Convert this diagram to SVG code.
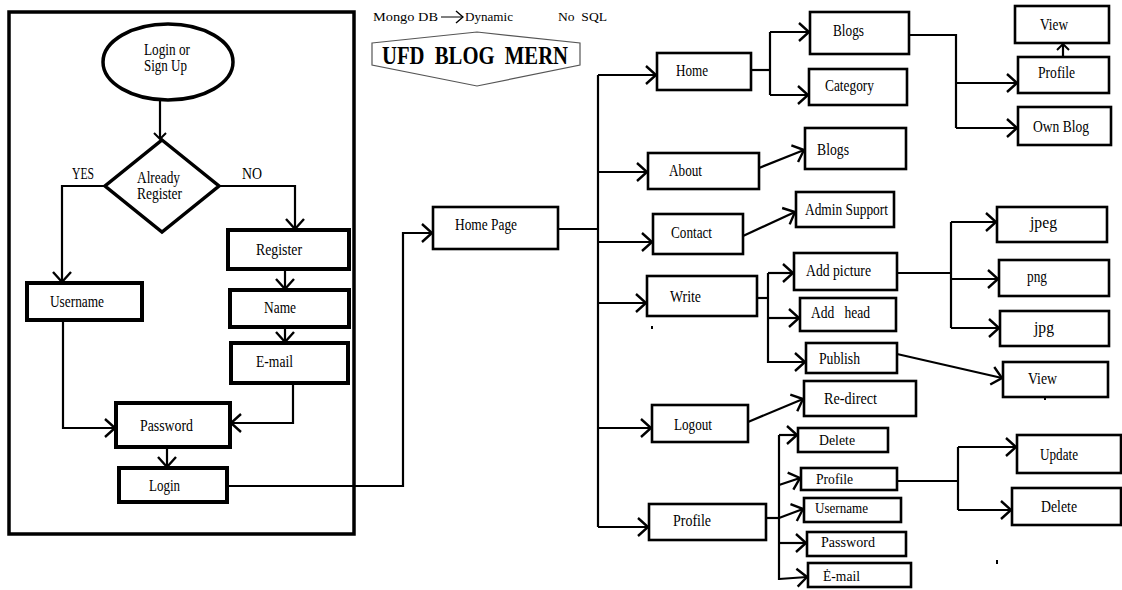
<svg xmlns="http://www.w3.org/2000/svg" width="1122" height="590" viewBox="0 0 1122 590" font-family="'Liberation Serif', 'Times New Roman', serif">
<defs>
<style>
text{font-family:'Liberation Serif','Times New Roman',serif;font-size:16px;fill:#000}
.b{fill:#fff;stroke:#000;stroke-width:2.6}
.k{fill:#fff;stroke:#000;stroke-width:4}
.c{fill:none;stroke:#000;stroke-width:2.2}
.h{font-size:13px}
.sm{font-size:15px}
</style>
<marker id="a" viewBox="-13 -12 15 24" refX="0" refY="0" markerWidth="15" markerHeight="24" orient="auto" markerUnits="userSpaceOnUse"><path d="M-10,-9 L0,0 L-10,9" fill="none" stroke="#000" stroke-width="2.4"/></marker>
<marker id="s" viewBox="-9 -8 10 16" refX="0" refY="0" markerWidth="10" markerHeight="16" orient="auto" markerUnits="userSpaceOnUse"><path d="M-6,-6 L0,0 L-6,6" fill="none" stroke="#000" stroke-width="2"/></marker>
<marker id="t" viewBox="-9 -8 10 16" refX="0" refY="0" markerWidth="10" markerHeight="16" orient="auto" markerUnits="userSpaceOnUse"><path d="M-7,-6 L0,0 L-7,6" fill="none" stroke="#000" stroke-width="1.4"/></marker>
</defs>
<rect width="1122" height="590" fill="#fff"/>

<g id="frame"><rect x="9" y="12" width="345" height="522" fill="none" stroke="#000" stroke-width="3.5"/></g>

<g id="title">
<text class="h" x="373" y="21" textLength="65" lengthAdjust="spacingAndGlyphs">Mongo DB</text>
<line x1="441" y1="17" x2="463" y2="17" stroke="#000" stroke-width="1" marker-end="url(#t)"/>
<text class="h" x="465" y="21" textLength="48" lengthAdjust="spacingAndGlyphs">Dynamic</text>
<text class="h" x="558" y="21" textLength="49" lengthAdjust="spacingAndGlyphs" xml:space="preserve">No  SQL</text>
<polygon points="372,43 477,32 580,43 580,65 477,86 372,65" fill="none" stroke="#555" stroke-width="1.2"/>
<text x="382" y="64" style="font-size:25px;font-weight:bold" textLength="186" lengthAdjust="spacingAndGlyphs" xml:space="preserve">UFD  BLOG  MERN</text>
</g>

<g id="connectors">
<path class="c" d="M160,100 V139" marker-end="url(#s)"/>
<path class="c" d="M105,186 H62 V282" marker-end="url(#a)"/>
<path class="c" d="M219,186 H295 V229" marker-end="url(#a)"/>
<path class="c" d="M285,269 V289" marker-end="url(#a)"/>
<path class="c" d="M285,327 V342" marker-end="url(#a)"/>
<path class="c" d="M293,383 V423 H231" marker-end="url(#a)"/>
<path class="c" d="M63,320 V428 H115" marker-end="url(#a)"/>
<path class="c" d="M167,447 V467" marker-end="url(#a)"/>
<path class="c" d="M227,486 H403 V233 H432" marker-end="url(#a)"/>
<path class="c" d="M558,229 H598"/>
<path class="c" d="M598,75 V527"/>
<path class="c" d="M598,75 H656" marker-end="url(#a)"/>
<path class="c" d="M598,172 H647" marker-end="url(#a)"/>
<path class="c" d="M598,242 H652" marker-end="url(#a)"/>
<path class="c" d="M598,303 H646" marker-end="url(#a)"/>
<path class="c" d="M598,428 H651" marker-end="url(#a)"/>
<path class="c" d="M598,527 H648" marker-end="url(#a)"/>
<path class="c" d="M751,70 H770"/>
<path class="c" d="M770,32 V95"/>
<path class="c" d="M770,32 H809" marker-end="url(#a)"/>
<path class="c" d="M770,95 H808" marker-end="url(#a)"/>
<path class="c" d="M909,35 H956 V128"/>
<path class="c" d="M956,83 H1017" marker-end="url(#a)"/>
<path class="c" d="M956,128 H1017" marker-end="url(#a)"/>
<path class="c" d="M1063,57 V44" marker-end="url(#s)"/>
<path class="c" d="M759,168 L804,150" marker-end="url(#a)"/>
<path class="c" d="M743,236 L795,212" marker-end="url(#a)"/>
<path class="c" d="M757,298 H768"/>
<path class="c" d="M768,273 V363"/>
<path class="c" d="M768,273 H793" marker-end="url(#a)"/>
<path class="c" d="M768,318 H799" marker-end="url(#a)"/>
<path class="c" d="M768,362 H805" marker-end="url(#a)"/>
<path class="c" d="M897,273 H951"/>
<path class="c" d="M951,222 V328"/>
<path class="c" d="M951,222 H996" marker-end="url(#a)"/>
<path class="c" d="M951,279 H998" marker-end="url(#a)"/>
<path class="c" d="M951,328 H999" marker-end="url(#a)"/>
<path class="c" d="M897,354 L1002,378" marker-end="url(#a)"/>
<path class="c" d="M748,422 L803,399" marker-end="url(#a)"/>
<path class="c" d="M766,518 H779"/>
<path class="c" d="M779,435 V580"/>
<path class="c" d="M779,435 H797" marker-end="url(#a)"/>
<path class="c" d="M779,485 L800,478" marker-end="url(#a)"/>
<path class="c" d="M779,518 L803,509" marker-end="url(#a)"/>
<path class="c" d="M779,543 H806" marker-end="url(#a)"/>
<path class="c" d="M779,579 L807,577" marker-end="url(#a)"/>
<path class="c" d="M897,481 H958"/>
<path class="c" d="M958,447 V510"/>
<path class="c" d="M958,447 H1016" marker-end="url(#a)"/>
<path class="c" d="M958,510 H1011" marker-end="url(#a)"/>
</g>

<g id="n-start"><ellipse cx="168" cy="62" rx="65" ry="38" fill="#fff" stroke="#000" stroke-width="3.5"/><text x="144" y="55" textLength="46" lengthAdjust="spacingAndGlyphs">Login or</text><text x="144" y="71" textLength="43" lengthAdjust="spacingAndGlyphs">Sign Up</text></g>
<g id="n-already"><polygon points="162,140 219,186 162,232 105,186" fill="#fff" stroke="#000" stroke-width="3.5"/><text x="137" y="183" textLength="43" lengthAdjust="spacingAndGlyphs">Already</text><text x="137" y="199" textLength="45" lengthAdjust="spacingAndGlyphs">Register</text></g>
<g id="l-yes"><text x="72" y="179" textLength="22" lengthAdjust="spacingAndGlyphs">YES</text></g>
<g id="l-no"><text x="242" y="179" textLength="20" lengthAdjust="spacingAndGlyphs">NO</text></g>
<g id="n-register"><rect class="k" x="228" y="230" width="121" height="39"/><text x="256" y="255" textLength="46" lengthAdjust="spacingAndGlyphs">Register</text></g>
<g id="n-name"><rect class="k" x="230" y="290" width="119" height="37"/><text x="264" y="313" textLength="32" lengthAdjust="spacingAndGlyphs">Name</text></g>
<g id="n-email"><rect class="k" x="231" y="343" width="117" height="40"/><text x="256" y="367" textLength="37" lengthAdjust="spacingAndGlyphs">E-mail</text></g>
<g id="n-username"><rect class="k" x="27" y="283" width="115" height="37"/><text x="50" y="307" textLength="54" lengthAdjust="spacingAndGlyphs">Username</text></g>
<g id="n-password"><rect class="k" x="116" y="403" width="114" height="44"/><text x="140" y="431" textLength="53" lengthAdjust="spacingAndGlyphs">Password</text></g>
<g id="n-login"><rect class="k" x="119" y="468" width="108" height="34"/><text x="149" y="491" textLength="31" lengthAdjust="spacingAndGlyphs">Login</text></g>

<g id="n-homepage"><rect class="b" x="433" y="207" width="125" height="42"/><text x="455" y="230" textLength="62" lengthAdjust="spacingAndGlyphs">Home Page</text></g>
<g id="n-home"><rect class="b" x="657" y="53" width="94" height="37"/><text x="676" y="76" textLength="32" lengthAdjust="spacingAndGlyphs">Home</text></g>
<g id="n-blogs"><rect class="b" x="810" y="12" width="99" height="42"/><text x="833" y="36" textLength="31" lengthAdjust="spacingAndGlyphs">Blogs</text></g>
<g id="n-category"><rect class="b" x="809" y="69" width="98" height="36"/><text x="825" y="91" textLength="49" lengthAdjust="spacingAndGlyphs">Category</text></g>
<g id="n-view1"><rect class="b" x="1015" y="6" width="94" height="37"/><text x="1040" y="30" textLength="28" lengthAdjust="spacingAndGlyphs">View</text></g>
<g id="n-profile1"><rect class="b" x="1018" y="57" width="91" height="36"/><text x="1038" y="78" textLength="37" lengthAdjust="spacingAndGlyphs">Profile</text></g>
<g id="n-ownblog"><rect class="b" x="1018" y="107" width="93" height="38"/><text x="1033" y="132" textLength="56" lengthAdjust="spacingAndGlyphs">Own Blog</text></g>
<g id="n-about"><rect class="b" x="648" y="153" width="111" height="36"/><text x="669" y="176" textLength="33" lengthAdjust="spacingAndGlyphs">About</text></g>
<g id="n-blogs2"><rect class="b" x="805" y="128" width="101" height="41"/><text x="817" y="155" textLength="32" lengthAdjust="spacingAndGlyphs">Blogs</text></g>
<g id="n-contact"><rect class="b" x="653" y="214" width="90" height="40"/><text x="671" y="238" textLength="41" lengthAdjust="spacingAndGlyphs">Contact</text></g>
<g id="n-admin"><rect class="b" x="796" y="192" width="98" height="35"/><text x="805" y="215" textLength="83" lengthAdjust="spacingAndGlyphs">Admin Support</text></g>
<g id="n-write"><rect class="b" x="647" y="276" width="110" height="40"/><text x="670" y="302" textLength="31" lengthAdjust="spacingAndGlyphs">Write</text></g>
<g id="n-addpic"><rect class="b" x="794" y="253" width="103" height="37"/><text x="806" y="276" textLength="65" lengthAdjust="spacingAndGlyphs">Add picture</text></g>
<g id="n-addhead"><rect class="b" x="800" y="298" width="96" height="33"/><text x="811" y="318" textLength="59" lengthAdjust="spacingAndGlyphs" xml:space="preserve">Add   head</text></g>
<g id="n-publish"><rect class="b" x="806" y="343" width="91" height="30"/><text x="819" y="364" textLength="41" lengthAdjust="spacingAndGlyphs">Publish</text></g>
<g id="n-jpeg"><rect class="b" x="997" y="207" width="110" height="35"/><text x="1030" y="228" textLength="27" lengthAdjust="spacingAndGlyphs">jpeg</text></g>
<g id="n-png"><rect class="b" x="999" y="260" width="110" height="36"/><text x="1027" y="282" textLength="20" lengthAdjust="spacingAndGlyphs">png</text></g>
<g id="n-jpg"><rect class="b" x="1000" y="311" width="109" height="35"/><text x="1034" y="333" textLength="20" lengthAdjust="spacingAndGlyphs">jpg</text></g>
<g id="n-view2"><rect class="b" x="1003" y="362" width="105" height="35"/><text x="1028" y="384" textLength="29" lengthAdjust="spacingAndGlyphs">View</text></g>
<g id="n-logout"><rect class="b" x="652" y="405" width="96" height="37"/><text x="674" y="430" textLength="38" lengthAdjust="spacingAndGlyphs">Logout</text></g>
<g id="n-redirect"><rect class="b" x="804" y="381" width="112" height="35"/><text x="824" y="404" textLength="53" lengthAdjust="spacingAndGlyphs">Re-direct</text></g>
<g id="n-profile"><rect class="b" x="649" y="504" width="117" height="36"/><text x="673" y="526" textLength="38" lengthAdjust="spacingAndGlyphs">Profile</text></g>
<g id="n-delete1"><rect class="b" x="798" y="428" width="90" height="24"/><text class="sm" x="819" y="445" textLength="36" lengthAdjust="spacingAndGlyphs">Delete</text></g>
<g id="n-profile2"><rect class="b" x="801" y="468" width="96" height="22"/><text class="sm" x="816" y="484" textLength="37" lengthAdjust="spacingAndGlyphs">Profile</text></g>
<g id="n-username2"><rect class="b" x="804" y="498" width="97" height="24"/><text class="sm" x="815" y="513" textLength="53" lengthAdjust="spacingAndGlyphs">Username</text></g>
<g id="n-password2"><rect class="b" x="807" y="532" width="99" height="24"/><text class="sm" x="821" y="547" textLength="54" lengthAdjust="spacingAndGlyphs">Password</text></g>
<g id="n-email2"><rect class="b" x="808" y="563" width="103" height="24"/><text class="sm" x="823" y="581" textLength="37" lengthAdjust="spacingAndGlyphs">Ė-mail</text></g>
<g id="n-update"><rect class="b" x="1017" y="435" width="104" height="38"/><text x="1040" y="460" textLength="38" lengthAdjust="spacingAndGlyphs">Update</text></g>
<g id="n-delete2"><rect class="b" x="1012" y="488" width="109" height="37"/><text x="1041" y="512" textLength="36" lengthAdjust="spacingAndGlyphs">Delete</text></g>

<g id="specks"><rect x="651" y="326" width="2" height="3"/><rect x="1044" y="397" width="2" height="3"/><rect x="996" y="560" width="2" height="4"/></g>
</svg>
